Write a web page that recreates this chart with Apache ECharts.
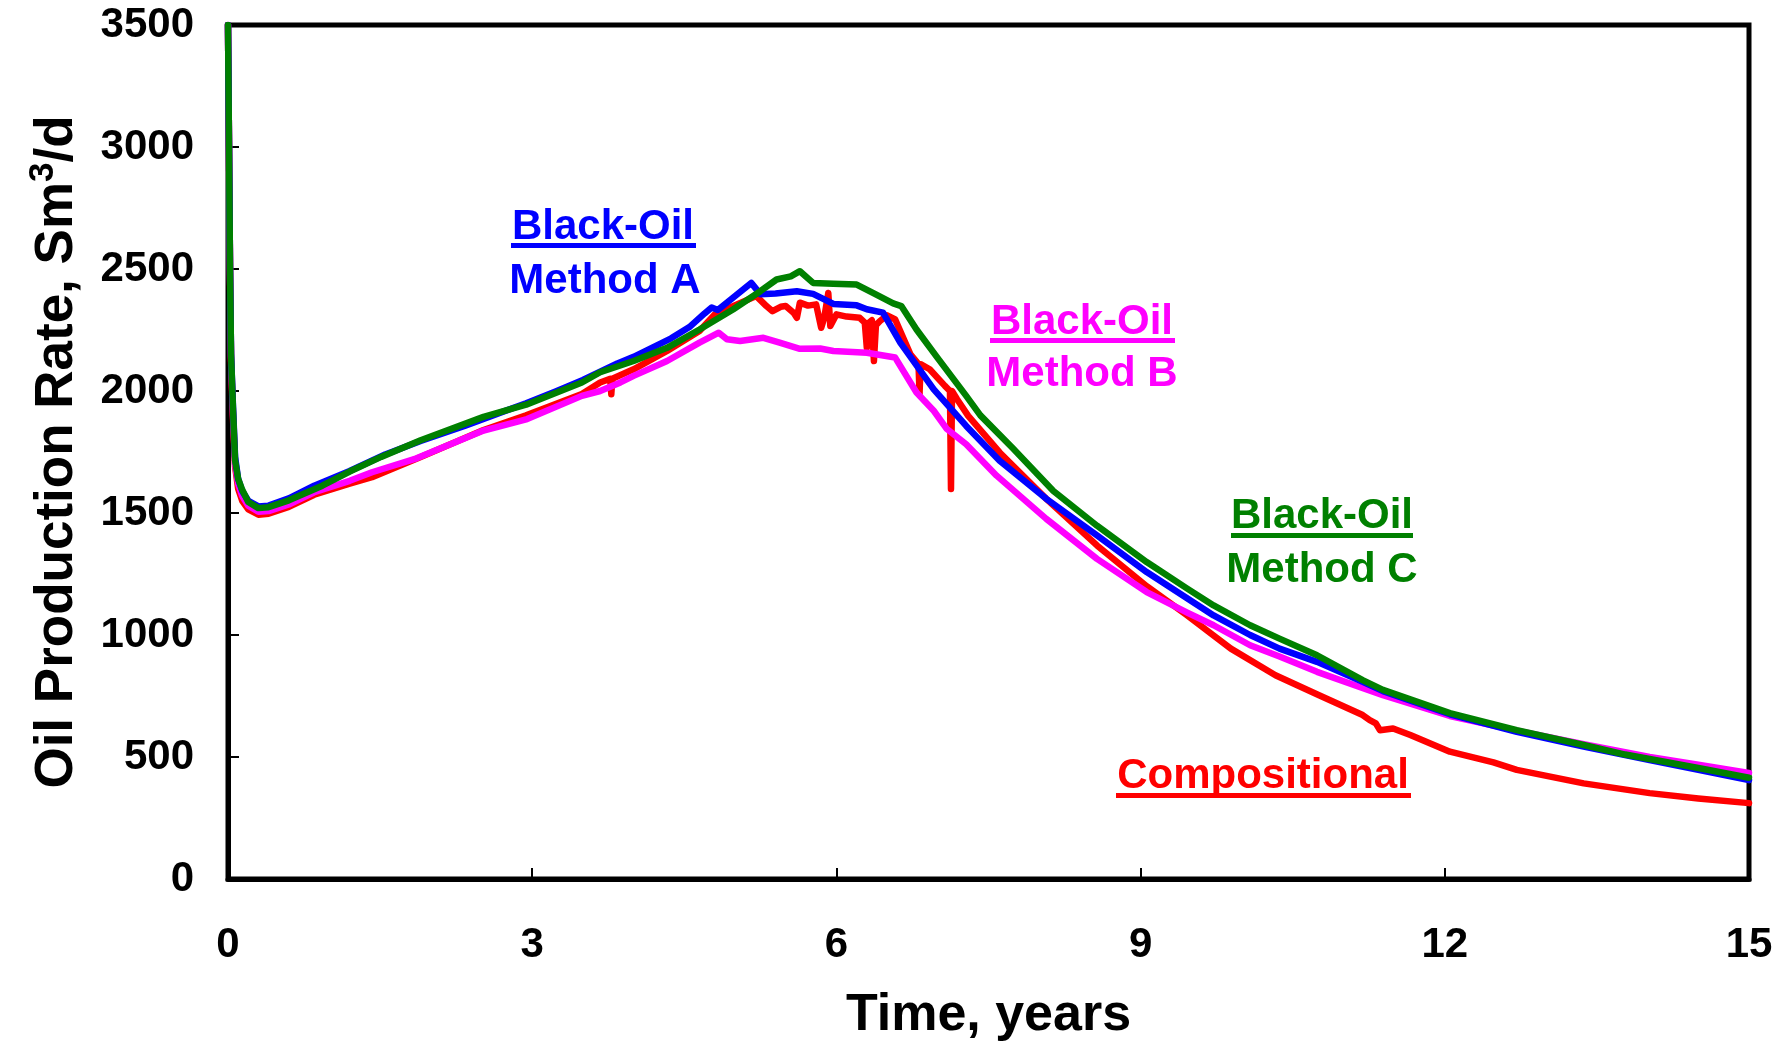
<!DOCTYPE html>
<html>
<head>
<meta charset="utf-8">
<script src="https://cdn.jsdelivr.net/npm/echarts@6/dist/echarts.min.js"></script>
<style>
html,body{margin:0;padding:0;background:#fff;}
#chart{width:1787px;height:1047px;}
</style>
</head>
<body>
<div id="chart"></div>
<script>
// ---- Data (time in years, oil rate in Sm3/d) ----
const xTicks = [0, 3, 6, 9, 12, 15];
const yTicks = [0, 500, 1000, 1500, 2000, 2500, 3000, 3500];

const compositional = [
  [0,3500],[0.01,3000],[0.02,2480],[0.03,2120],[0.05,1880],[0.07,1690],[0.1,1600],[0.14,1550],[0.2,1515],[0.3,1493],
  [0.4,1497],[0.6,1525],[0.85,1575],[1.2,1620],[1.42,1647],[1.9,1730],[2.52,1840],[2.94,1900],[3.49,1988],[3.67,2035],
  [3.77,2050],[3.78,1987],[3.79,2050],[4.0,2089],[4.33,2164],[4.65,2246],[4.8,2314],[4.98,2348],[5.21,2389],[5.31,2348],
  [5.37,2327],[5.45,2345],[5.5,2348],[5.58,2320],[5.61,2300],[5.64,2362],[5.72,2350],[5.8,2355],[5.85,2259],[5.88,2300],
  [5.92,2402],[5.94,2266],[6.0,2314],[6.1,2305],[6.23,2300],[6.28,2280],[6.30,2177],[6.32,2280],[6.35,2290],[6.37,2123],
  [6.39,2270],[6.43,2287],[6.5,2310],[6.58,2293],[6.73,2150],[6.81,2110],[6.82,1987],[6.83,2110],[6.92,2089],[7.07,2021],
  [7.12,2000],[7.13,1598],[7.14,2000],[7.19,1966],[7.3,1898],[7.61,1748],[8.07,1558],[8.57,1367],[9.06,1200],[9.46,1080],
  [9.89,944],[10.33,835],[10.76,753],[11.19,672],[11.26,651],[11.32,638],[11.36,610],[11.49,617],[11.66,590],[12.05,522],
  [12.48,478],[12.71,447],[13.37,392],[14.02,352],[14.5,330],[15,311]
];

const methodA = [
  [0,3500],[0.01,3000],[0.02,2500],[0.03,2150],[0.05,1930],[0.07,1730],[0.1,1640],[0.14,1590],[0.2,1550],[0.3,1527],
  [0.4,1530],[0.6,1560],[0.85,1612],[1.2,1672],[1.55,1740],[1.9,1795],[2.34,1858],[2.6,1898],[2.94,1950],[3.23,1998],
  [3.5,2045],[3.84,2113],[4.0,2140],[4.37,2216],[4.55,2262],[4.7,2318],[4.77,2342],[4.83,2332],[4.98,2382],[5.16,2443],
  [5.25,2397],[5.4,2400],[5.61,2409],[5.77,2398],[5.97,2357],[6.2,2351],[6.3,2335],[6.46,2321],[6.63,2198],[6.96,2007],
  [7.28,1857],[7.61,1714],[8.07,1558],[8.57,1408],[9.06,1258],[9.72,1080],[10.08,1000],[10.37,944],[10.74,890],[11.19,808],
  [11.39,770],[12.05,675],[12.71,603],[13.37,543],[14.02,487],[14.5,448],[15,405]
];

const methodB = [
  [0,3500],[0.01,3000],[0.02,2500],[0.03,2140],[0.05,1900],[0.07,1700],[0.1,1620],[0.14,1570],[0.2,1530],[0.3,1505],
  [0.4,1508],[0.6,1535],[0.85,1585],[1.2,1632],[1.42,1667],[1.86,1724],[2.3,1800],[2.52,1838],[2.95,1885],[3.49,1980],
  [3.67,2000],[3.87,2035],[4.0,2062],[4.33,2123],[4.65,2198],[4.84,2239],[4.92,2212],[5.05,2205],[5.28,2218],[5.44,2198],
  [5.64,2173],[5.84,2174],[5.97,2164],[6.3,2157],[6.58,2137],[6.79,1994],[6.96,1919],[7.09,1844],[7.28,1782],[7.58,1653],
  [8.07,1476],[8.57,1312],[9.06,1176],[9.46,1092],[9.72,1040],[10.08,958],[10.37,912],[10.74,849],[11.39,753],[12.05,668],
  [12.71,608],[13.37,553],[14.02,500],[14.5,468],[15,435]
];

const methodC = [
  [0,3500],[0.01,3000],[0.02,2500],[0.03,2150],[0.05,1920],[0.07,1715],[0.1,1640],[0.14,1595],[0.2,1545],[0.3,1520],
  [0.4,1524],[0.6,1552],[0.93,1612],[1.2,1670],[1.51,1730],[1.9,1798],[2.52,1894],[2.94,1944],[3.49,2035],[3.67,2077],
  [4.0,2123],[4.33,2177],[4.65,2252],[4.98,2334],[5.25,2409],[5.41,2457],[5.55,2470],[5.64,2491],[5.77,2443],[5.97,2440],
  [6.2,2436],[6.36,2402],[6.56,2359],[6.64,2348],[6.79,2252],[6.99,2140],[7.28,1980],[7.42,1900],[7.74,1765],[8.14,1590],
  [8.57,1448],[9.06,1299],[9.46,1190],[9.72,1121],[10.08,1040],[10.37,985],[10.74,917],[11.19,815],[11.39,775],[12.05,680],
  [12.71,610],[13.37,549],[13.78,510],[14.02,492],[14.5,455],[15,415]
];

const seriesNames = ['Compositional', 'Black-Oil Method B', 'Black-Oil Method A', 'Black-Oil Method C'];
const seriesColors = ['#ff0000', '#ff00ff', '#0000ff', '#008000'];
const seriesData = [compositional, methodB, methodA, methodC];

const FONT = '"Liberation Sans", Arial, Helvetica, sans-serif';

const chart = echarts.init(document.getElementById('chart'), null, {renderer: 'canvas'});

function annText(txt, x, y, color) {
  return {
    type: 'text', x: x, y: y, z: 100,
    style: {text: txt, fill: color, font: 'bold 42px ' + FONT, align: 'center', verticalAlign: 'middle'}
  };
}
function underline(x1, x2, y, color) {
  return {type: 'rect', z: 100, shape: {x: x1, y: y, width: x2 - x1, height: 5}, style: {fill: color}};
}

const option = {
  animation: false,
  backgroundColor: '#ffffff',
  grid: {left: 228, right: 38, top: 25, bottom: 166, show: true, borderColor: '#000', borderWidth: 5, containLabel: false},
  xAxis: {
    type: 'value', min: xTicks[0], max: xTicks[xTicks.length - 1], interval: 3,
    name: 'Time, years', nameLocation: 'middle', nameGap: 111,
    nameTextStyle: {fontFamily: FONT, fontWeight: 'bold', fontSize: 52, color: '#000'},
    axisLine: {show: true, onZero: false, lineStyle: {color: '#000', width: 5}},
    axisTick: {show: true, inside: true, length: 11, lineStyle: {color: '#000', width: 2}},
    axisLabel: {fontFamily: FONT, fontWeight: 'bold', fontSize: 42, color: '#000', margin: 45,
      formatter: v => String(v)},
    splitLine: {show: false}
  },
  yAxis: {
    type: 'value', min: yTicks[0], max: yTicks[yTicks.length - 1], interval: 500,
    name: '{a|Oil Production Rate, Sm}{b|3}{a|/d}', nameLocation: 'middle', nameGap: 140, nameRotate: 90,
    nameTextStyle: {
      color: '#000',
      rich: {
        a: {fontFamily: FONT, fontWeight: 'bold', fontSize: 53, color: '#000', lineHeight: 62},
        b: {fontFamily: FONT, fontWeight: 'bold', fontSize: 35, color: '#000', verticalAlign: 'top', lineHeight: 35}
      }
    },
    axisLine: {show: true, onZero: false, lineStyle: {color: '#000', width: 5}},
    axisTick: {show: true, inside: true, length: 11, lineStyle: {color: '#000', width: 2}},
    axisLabel: {fontFamily: FONT, fontWeight: 'bold', fontSize: 42, color: '#000', margin: 34,
      formatter: v => String(v)},
    splitLine: {show: false}
  },
  series: seriesData.map((d, i) => ({
    name: seriesNames[i], type: 'line', data: d, showSymbol: false, symbol: 'none',
    smooth: false, clip: true, z: 2 + i,
    lineStyle: {color: seriesColors[i], width: 6.5, cap: 'round', join: 'round'}
  })),
  graphic: [
    annText('Black-Oil', 603, 227, '#0000ff'), underline(511, 696, 243, '#0000ff'),
    annText('Method A', 605, 281, '#0000ff'),
    annText('Black-Oil', 1082, 322, '#ff00ff'), underline(990, 1175, 338, '#ff00ff'),
    annText('Method B', 1082, 374, '#ff00ff'),
    annText('Black-Oil', 1322, 516, '#008000'), underline(1231, 1413, 533, '#008000'),
    annText('Method C', 1322, 570, '#008000'),
    annText('Compositional', 1263, 776, '#ff0000'), underline(1116, 1411, 793, '#ff0000')
  ]
};
chart.setOption(option);
</script>
</body>
</html>
